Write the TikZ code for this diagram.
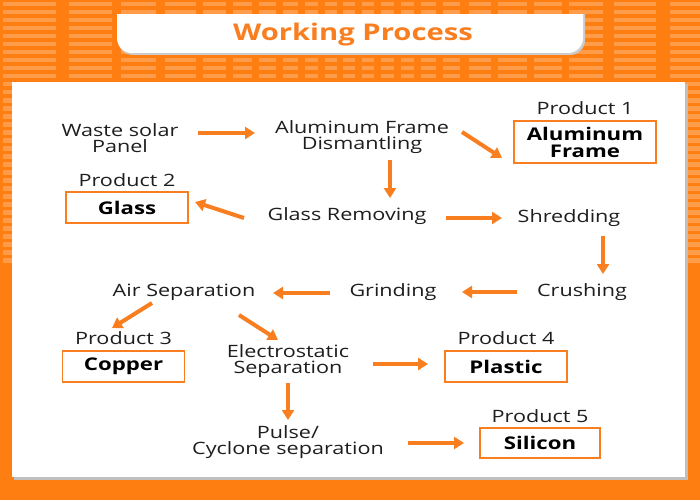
\documentclass[tikz,border=0pt]{standalone}
\usepackage{fontspec}
\setmainfont{Open Sans}[FakeStretch=1.27]
\usetikzlibrary{arrows.meta,positioning}
\definecolor{borange}{RGB}{255,126,18}
\definecolor{aorange}{RGB}{248,126,32}
\definecolor{txtgray}{RGB}{30,30,30}

\begin{document}
\begin{tikzpicture}[x=1pt, y=-1pt,
    procnode/.style={inner sep=0pt, align=center, text=txtgray, font=\fontsize{17}{16}\selectfont},
    prodlabel/.style={procnode},
    prodbox/.style={rectangle, draw=aorange, line width=1.5pt, fill=white, inner sep=0pt, minimum width=122pt, minimum height=31pt, align=center, text=black, font=\bfseries\fontsize{17.5}{17}\selectfont},
    flow/.style={-{Triangle[width=12pt,length=10pt]}, line width=4pt, draw=aorange},
    ]
\useasboundingbox (0,0) rectangle (700,500);

% background with panel stripes
\fill[borange] (0,0) rectangle (700,500);
\foreach \xa/\xb in {3/56, 69/112, 121/156, 165/196, 203/226, 233/252, 259/276, 283/298, 305/318, 325/337, 343/355, 362/374, 381/394, 401/414, 421/436, 443/460, 469/491, 498/527, 534/562, 569/603, 614/656, 670/700}
    \foreach \ya in {2,10,...,258}
        \fill[white, opacity=0.24] (\xa,\ya) rectangle (\xb,\ya+4.5);

% title tab
\begin{scope}
\clip (0,15) rectangle (700,60);
\fill[black!20, rounded corners=15pt] (118,-10) rectangle (585,55);
\fill[white, rounded corners=15pt] (117,-10) rectangle (583,53);
\end{scope}
\node[font=\bfseries\fontsize{23}{24}\selectfont, text=aorange] (title) at (353,35) {Working Process};

% main panel
\fill[black!25] (14,84) rectangle (688,480);
\fill[white] (12,82) rectangle (685,477);

% process steps
\node[procnode] (waste) at (120,138) {Waste solar\\Panel};
\node[procnode] (dism) at (362,137) {Aluminum Frame\\Dismantling};
\node[procnode] (glassrem) at (347,216) {Glass Removing};
\node[procnode] (shred) at (569,218) {Shredding};
\node[procnode] (crush) at (582,292) {Crushing};
\node[procnode] (grind) at (393,292) {Grinding};
\node[procnode] (airsep) at (184,292) {Air Separation};
\node[procnode] (electro) at (288,361) {Electrostatic\\Separation};
\node[procnode] (pulse) at (288,442) {Pulse/\\Cyclone separation};

% products
\node[prodbox, minimum width=142pt, minimum height=42pt] (alubox) at (585,142) {Aluminum\\Frame};
\node[prodbox] (glassbox) at (127,207.5) {Glass};
\node[prodbox] (copperbox) at (123.5,366.5) {Copper};
\node[prodbox] (plasticbox) at (506,366.5) {Plastic};
\node[prodbox, minimum width=120pt, minimum height=30pt] (siliconbox) at (540,443) {Silicon};

\node[prodlabel, above=5pt of alubox] (p1) {Product 1};
\node[prodlabel, above=4pt of glassbox] (p2) {Product 2};
\node[prodlabel, above=5pt of copperbox] (p3) {Product 3};
\node[prodlabel, above=5pt of plasticbox] (p4) {Product 4};
\node[prodlabel, above=4pt of siliconbox] (p5) {Product 5};

% arrows
\draw[flow] ([shift={(78,-5)}]waste.center) -- ([shift={(-107,-4)}]dism.center);
\draw[flow] ([shift={(100,-5)}]dism.center) -- ([shift={(-83,16)}]alubox.center);
\draw[flow] ([shift={(28,23)}]dism.center) -- ([shift={(43,-18)}]glassrem.center);
\draw[flow] ([shift={(-103,2)}]glassrem.center) -- ([shift={(68,-5.5)}]glassbox.center);
\draw[flow] ([shift={(99,2)}]glassrem.center) -- ([shift={(-67,0)}]shred.center);
\draw[flow] ([shift={(34,18)}]shred.center) -- ([shift={(21,-18)}]crush.center);
\draw[flow] ([shift={(-65,0)}]crush.center) -- ([shift={(69,0)}]grind.center);
\draw[flow] ([shift={(-63,1)}]grind.center) -- ([shift={(89,1)}]airsep.center);
\draw[flow] ([shift={(-32,11)}]airsep.center) -- ([shift={(-11.5,-38.5)}]copperbox.center);
\draw[flow] ([shift={(55,23)}]airsep.center) -- ([shift={(-10,-21)}]electro.center);
\draw[flow] ([shift={(85,3)}]electro.center) -- ([shift={(-78,-2.5)}]plasticbox.center);
\draw[flow] ([shift={(0,22)}]electro.center) -- ([shift={(0,-22)}]pulse.center);
\draw[flow] ([shift={(120,1)}]pulse.center) -- ([shift={(-76,0)}]siliconbox.center);

\end{tikzpicture}
\end{document}
